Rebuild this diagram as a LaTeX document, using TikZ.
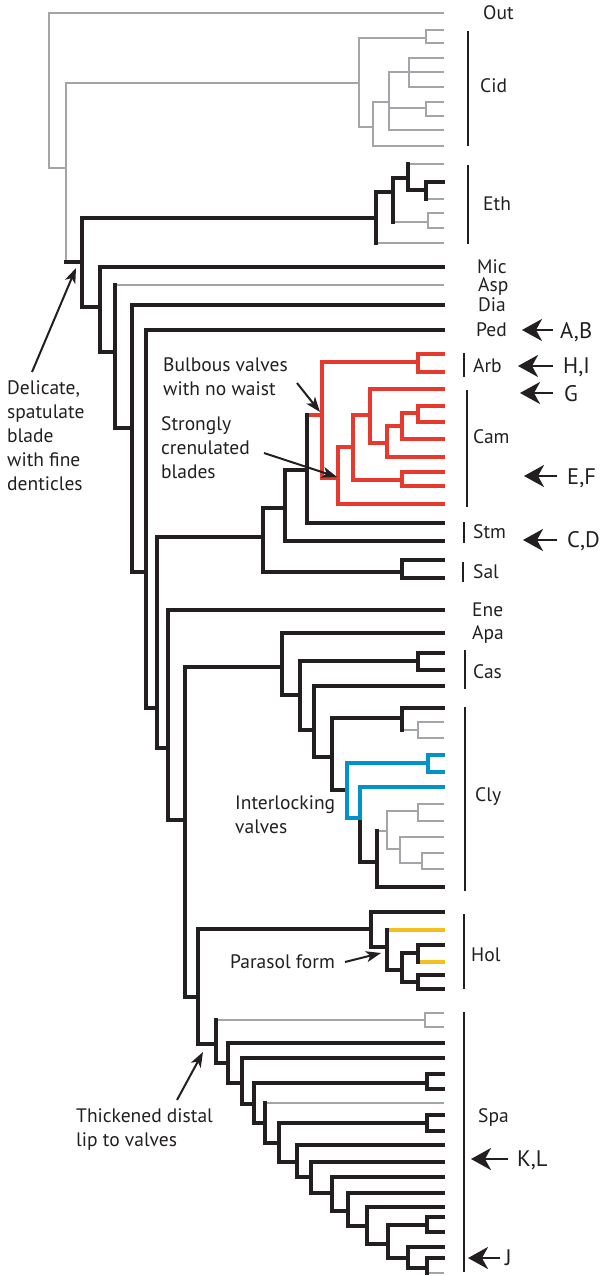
\documentclass[tikz,border=0pt]{standalone}
\usepackage{fontspec}
\setmainfont{PT Sans}
\usetikzlibrary{arrows.meta}
\definecolor{tblack}{HTML}{231F20}
\definecolor{tgray}{HTML}{A3A5A8}
\definecolor{tred}{HTML}{E8392F}
\definecolor{tblue}{HTML}{0092C8}
\definecolor{tyellow}{HTML}{F5BF1E}
\begin{document}
\begin{tikzpicture}[x=1pt,y=-1pt,
  blk/.style={line width=4pt,tblack,line cap=rect},
  gry/.style={line width=2pt,tgray,line cap=rect},
  redb/.style={line width=4pt,tred,line cap=rect},
  blu/.style={line width=4pt,tblue,line cap=rect},
  yel/.style={line width=4pt,tyellow,line cap=rect},
  cbar/.style={line width=2.5pt,tblack},
  lab/.style={font=\fontsize{19.5}{24}\selectfont,text=tblack,inner sep=0pt,anchor=base west},
  note/.style={font=\fontsize{19.5}{24}\selectfont,text=tblack,inner sep=0pt,align=left,anchor=north west},
  big/.style={font=\fontsize{22.5}{26}\selectfont,text=tblack,inner sep=0pt,anchor=base west},
  bigarr/.style={line width=2.5pt,tblack,-{Stealth[length=20pt,width=22pt,inset=6pt]}},
  smarr/.style={line width=2pt,tblack,-{Stealth[length=15pt,width=11pt,inset=4pt]}},
]
\def\T{443}
\useasboundingbox (0,0) rectangle (603,1276);
% ---------- gray branches ----------
\draw[gry] (\T,13) -- (49,13) -- (49,168) -- (66,168);
\draw[gry] (66,83) -- (66,262);
\draw[gry] (66,83) -- (359,83);
\draw[gry] (359,38) -- (359,127);
\draw[gry] (359,38) -- (426,38);
\draw[gry] (426,30) -- (426,43);
\draw[gry] (426,102) -- (426,116);
\draw[gry] (359,127) -- (373,127);
\draw[gry] (373,102) -- (373,146);
\draw[gry] (373,102) -- (389,102);
\draw[gry] (389,72) -- (389,130);
\draw[gry] (409,58) -- (409,87);
\draw[gry] (389,108) -- (426,108);
\foreach \x/\y in {426/30,426/43,409/58,389/72,409/87,426/102,426/116,389/130,373/146}
  \draw[gry] (\x,\y) -- (\T,\y);
% Eth gray
\draw[gry] (376,243) -- (\T,243);
\draw[gry] (393,222) -- (428,222);
\draw[gry] (428,213) -- (428,228);
\draw[gry] (428,213) -- (\T,213);
\draw[gry] (428,228) -- (\T,228);
\draw[gry] (408,164) -- (\T,164);
\draw[gry] (426,199) -- (\T,199);
% Asp
\draw[gry] (115,285) -- (\T,285);
% Cly gray
\draw[gry] (402,730) -- (418,730);
\draw[gry] (418,722) -- (418,738);
\draw[gry] (418,722) -- (\T,722);
\draw[gry] (418,738) -- (\T,738);
\draw[gry] (377,831) -- (387,831);
\draw[gry] (387,811) -- (387,849);
\draw[gry] (387,811) -- (418,811);
\draw[gry] (418,804) -- (418,821);
\draw[gry] (418,804) -- (\T,804);
\draw[gry] (418,821) -- (\T,821);
\draw[gry] (387,849) -- (400,849);
\draw[gry] (400,837) -- (400,863);
\draw[gry] (400,837) -- (\T,837);
\draw[gry] (400,863) -- (422,863);
\draw[gry] (422,853) -- (422,869);
\draw[gry] (422,853) -- (\T,853);
\draw[gry] (422,869) -- (\T,869);
% Spa gray
\draw[gry] (216,1020) -- (425,1020);
\draw[gry] (425,1013) -- (425,1027);
\draw[gry] (425,1013) -- (\T,1013);
\draw[gry] (425,1027) -- (\T,1027);
\draw[gry] (265,1103) -- (\T,1103);
\draw[gry] (427,1273) -- (\T,1273);
% ---------- red clade ----------
\draw[redb] (307,415) -- (322,415);
\draw[redb] (322,362) -- (322,478);
\draw[redb] (322,362) -- (418,362);
\draw[redb] (418,354) -- (418,372);
\draw[redb] (418,354) -- (\T,354);
\draw[redb] (418,372) -- (\T,372);
\draw[redb] (322,478) -- (338,478);
\draw[redb] (338,447) -- (338,504);
\draw[redb] (338,504) -- (\T,504);
\draw[redb] (338,447) -- (353,447);
\draw[redb] (353,415) -- (353,480);
\draw[redb] (353,480) -- (402,480);
\draw[redb] (402,472) -- (402,486);
\draw[redb] (402,472) -- (\T,472);
\draw[redb] (402,486) -- (\T,486);
\draw[redb] (353,415) -- (370,415);
\draw[redb] (370,389) -- (370,443);
\draw[redb] (370,389) -- (\T,389);
\draw[redb] (370,443) -- (387,443);
\draw[redb] (387,426) -- (387,457);
\draw[redb] (387,457) -- (\T,457);
\draw[redb] (387,426) -- (402,426);
\draw[redb] (402,413) -- (402,439);
\draw[redb] (402,439) -- (\T,439);
\draw[redb] (402,413) -- (418,413);
\draw[redb] (418,406) -- (418,422);
\draw[redb] (418,406) -- (\T,406);
\draw[redb] (418,422) -- (\T,422);
% ---------- yellow ----------
\draw[yel] (387,930) -- (\T,930);
\draw[yel] (418,962) -- (\T,962);
% ---------- black branches ----------
\draw[blk] (66,262) -- (82,262);
\draw[blk] (82,218) -- (82,307);
\draw[blk] (82,218) -- (376,218);
\draw[blk] (376,192) -- (376,243);
\draw[blk] (376,192) -- (393,192);
\draw[blk] (393,178) -- (393,222);
\draw[blk] (393,178) -- (408,178);
\draw[blk] (408,164) -- (408,190);
\draw[blk] (408,190) -- (426,190);
\draw[blk] (426,182) -- (426,199);
\draw[blk] (426,182) -- (\T,182);
% backbone
\draw[blk] (82,307) -- (100,307);
\draw[blk] (100,267) -- (100,352);
\draw[blk] (100,267) -- (\T,267);
\draw[blk] (100,352) -- (115,352);
\draw[blk] (115,285) -- (115,428);
\draw[blk] (115,428) -- (132,428);
\draw[blk] (132,305) -- (132,572);
\draw[blk] (132,305) -- (\T,305);
\draw[blk] (132,572) -- (146,572);
\draw[blk] (146,330) -- (146,708);
\draw[blk] (146,330) -- (\T,330);
\draw[blk] (146,708) -- (157,708);
\draw[blk] (157,537) -- (157,748);
\draw[blk] (157,537) -- (263,537);
\draw[blk] (263,508) -- (263,572);
\draw[blk] (263,508) -- (285,508);
\draw[blk] (285,470) -- (285,541);
\draw[blk] (285,541) -- (\T,541);
\draw[blk] (285,470) -- (307,470);
\draw[blk] (307,415) -- (307,523);
\draw[blk] (307,523) -- (\T,523);
\draw[blk] (263,572) -- (402,572);
\draw[blk] (402,560) -- (402,578);
\draw[blk] (402,560) -- (\T,560);
\draw[blk] (402,578) -- (\T,578);
\draw[blk] (157,748) -- (168,748);
\draw[blk] (168,610) -- (168,820);
\draw[blk] (168,610) -- (\T,610);
\draw[blk] (168,820) -- (185,820);
\draw[blk] (185,667) -- (185,997);
\draw[blk] (185,667) -- (282,667);
\draw[blk] (282,633) -- (282,695);
\draw[blk] (282,633) -- (\T,633);
\draw[blk] (282,695) -- (300,695);
\draw[blk] (300,661) -- (300,730);
\draw[blk] (300,661) -- (418,661);
\draw[blk] (418,653) -- (418,670);
\draw[blk] (418,653) -- (\T,653);
\draw[blk] (418,670) -- (\T,670);
\draw[blk] (300,730) -- (314,730);
\draw[blk] (314,686) -- (314,757);
\draw[blk] (314,686) -- (\T,686);
\draw[blk] (314,757) -- (332,757);
\draw[blk] (332,718) -- (332,790);
\draw[blk] (332,718) -- (402,718);
\draw[blk] (402,708) -- (402,730);
\draw[blk] (402,708) -- (\T,708);
\draw[blk] (332,790) -- (347,790);
\draw[blk] (360,818) -- (360,862);
\draw[blk] (360,862) -- (377,862);
\draw[blk] (377,831) -- (377,887);
\draw[blk] (377,887) -- (\T,887);
% Hol
\draw[blk] (185,997) -- (198,997);
\draw[blk] (198,929) -- (198,1044);
\draw[blk] (198,929) -- (371,929);
\draw[blk] (371,912) -- (371,947);
\draw[blk] (371,912) -- (\T,912);
\draw[blk] (371,947) -- (387,947);
\draw[blk] (387,930) -- (387,970);
\draw[blk] (387,970) -- (402,970);
\draw[blk] (402,953) -- (402,982);
\draw[blk] (402,953) -- (418,953);
\draw[blk] (418,945) -- (418,962);
\draw[blk] (418,945) -- (\T,945);
\draw[blk] (402,982) -- (418,982);
\draw[blk] (418,975) -- (418,989);
\draw[blk] (418,975) -- (\T,975);
\draw[blk] (418,989) -- (\T,989);
% Spa
\draw[blk] (198,1044) -- (216,1044);
\draw[blk] (216,1020) -- (216,1063);
\draw[blk] (216,1063) -- (228,1063);
\draw[blk] (228,1043) -- (228,1083);
\draw[blk] (228,1043) -- (\T,1043);
\draw[blk] (228,1083) -- (242,1083);
\draw[blk] (242,1058) -- (242,1104);
\draw[blk] (242,1058) -- (\T,1058);
\draw[blk] (242,1104) -- (254,1104);
\draw[blk] (254,1083) -- (254,1123);
\draw[blk] (254,1083) -- (427,1083);
\draw[blk] (427,1074) -- (427,1089);
\draw[blk] (427,1074) -- (\T,1074);
\draw[blk] (427,1089) -- (\T,1089);
\draw[blk] (254,1123) -- (265,1123);
\draw[blk] (265,1103) -- (265,1143);
\draw[blk] (265,1143) -- (279,1143);
\draw[blk] (279,1123) -- (279,1162);
\draw[blk] (279,1123) -- (427,1123);
\draw[blk] (427,1115) -- (427,1131);
\draw[blk] (427,1115) -- (\T,1115);
\draw[blk] (427,1131) -- (\T,1131);
\draw[blk] (279,1162) -- (297,1162);
\draw[blk] (297,1145) -- (297,1177);
\draw[blk] (297,1145) -- (\T,1145);
\draw[blk] (297,1177) -- (311,1177);
\draw[blk] (311,1162) -- (311,1193);
\draw[blk] (311,1162) -- (\T,1162);
\draw[blk] (311,1193) -- (332,1193);
\draw[blk] (332,1177) -- (332,1211);
\draw[blk] (332,1177) -- (\T,1177);
\draw[blk] (332,1211) -- (348,1211);
\draw[blk] (348,1193) -- (348,1226);
\draw[blk] (348,1193) -- (\T,1193);
\draw[blk] (348,1226) -- (367,1226);
\draw[blk] (367,1207) -- (367,1244);
\draw[blk] (367,1207) -- (\T,1207);
\draw[blk] (367,1244) -- (388,1244);
\draw[blk] (388,1225) -- (388,1258);
\draw[blk] (388,1225) -- (427,1225);
\draw[blk] (427,1217) -- (427,1232);
\draw[blk] (427,1217) -- (\T,1217);
\draw[blk] (427,1232) -- (\T,1232);
\draw[blk] (388,1258) -- (408,1258);
\draw[blk] (408,1247) -- (408,1268);
\draw[blk] (408,1247) -- (\T,1247);
\draw[blk] (408,1268) -- (427,1268);
\draw[blk] (427,1258) -- (427,1273);
\draw[blk] (427,1258) -- (\T,1258);
% ---------- blue ----------
\draw[blu] (347,763) -- (347,818);
\draw[blu] (347,763) -- (428,763);
\draw[blu] (428,755) -- (428,772);
\draw[blu] (428,755) -- (\T,755);
\draw[blu] (428,772) -- (\T,772);
\draw[blu] (347,818) -- (360,818);
\draw[blu] (360,787) -- (360,818);
\draw[blu] (360,787) -- (\T,787);
% ---------- clade bars ----------
\draw[cbar] (468,31) -- (468,146);
\draw[cbar] (468,165) -- (468,244);
\draw[cbar] (464,353) -- (464,377);
\draw[cbar] (467,390) -- (467,507);
\draw[cbar] (464,522) -- (464,543);
\draw[cbar] (463,562) -- (463,582);
\draw[cbar] (465,650) -- (465,689);
\draw[cbar] (465,707) -- (465,891);
\draw[cbar] (464,914) -- (464,989);
\draw[cbar] (464,1012) -- (464,1272);
% ---------- tip labels ----------
\node[lab] (lOut) at (483,20) {Out};
\node[lab] (lCid) at (480,93) {Cid};
\node[lab] (lEth) at (483,210) {Eth};
\node[lab] (lMic) at (477,273) {Mic};
\node[lab] (lAsp) at (478,291) {Asp};
\node[lab] (lDia) at (478,311) {Dia};
\node[lab] (lPed) at (476,336) {Ped};
\node[lab] (lArb) at (473,372) {Arb};
\node[lab] (lCam) at (473,443) {Cam};
\node[lab] (lStm) at (473,538) {Stm};
\node[lab] (lSal) at (473,578) {Sal};
\node[lab] (lEne) at (472,616) {Ene};
\node[lab] (lApa) at (472,639) {Apa};
\node[lab] (lCas) at (473,678) {Cas};
\node[lab] (lCly) at (475,801) {Cly};
\node[lab] (lHol) at (471,961) {Hol};
\node[lab] (lSpa) at (478,1122) {Spa};
% ---------- right arrows ----------
\node[big] (tAB) at (560,338) {A,B};
\node[big] (tHI) at (563,373) {H,I};
\node[big] (tG)  at (564,401) {G};
\node[big] (tEF) at (567,484) {E,F};
\node[big] (tCD) at (567,547) {C,D};
\node[big] (tKL) at (517,1166) {K,L};
\node[big] (tJ)  at (505,1265) {J};
\coordinate (aAB) at (522,330); \coordinate (bAB) at (553,330);
\coordinate (aHI) at (518,366); \coordinate (bHI) at (553,366);
\coordinate (aG)  at (520,393); \coordinate (bG)  at (553,393);
\coordinate (aEF) at (524,476); \coordinate (bEF) at (557,476);
\coordinate (aCD) at (523,540); \coordinate (bCD) at (557,540);
\coordinate (aKL) at (471,1159); \coordinate (bKL) at (508,1159);
\coordinate (aJ)  at (468,1258); \coordinate (bJ)  at (500,1258);
\foreach \n in {AB,HI,G,EF,CD,KL,J} \draw[bigarr] (b\n) -- (a\n);
% ---------- annotations ----------
\node[note] (nDel) at (7,380) {Delicate,\\spatulate\\blade\\with fine\\denticles};
\node[note] (nBul) at (163,357) {Bulbous valves\\with no waist};
\node[note] (nStr) at (161,416) {Strongly\\crenulated\\blades};
\node[note] (nInt) at (235,795) {Interlocking\\valves};
\node[lab]  (nPar) at (230,968) {Parasol form};
\node[note] (nThi) at (76,1108) {Thickened distal\\lip to valves};
\coordinate (cDel0) at (32,372); \coordinate (cDel1) at (76,268);
\coordinate (cBul0) at (297,383); \coordinate (cBul1) at (320,412);
\coordinate (cStr0) at (264,453); \coordinate (cStr1) at (337,477);
\coordinate (cPar0) at (345,962); \coordinate (cPar1) at (381,953);
\coordinate (cThi0) at (177,1100); \coordinate (cThi1) at (203,1052);
\foreach \n in {Del,Bul,Str,Par,Thi} \draw[smarr] (c\n0) -- (c\n1);
\end{tikzpicture}
\end{document}
